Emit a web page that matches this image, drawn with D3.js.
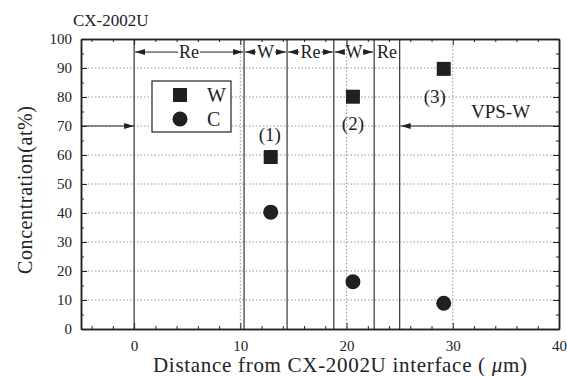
<!DOCTYPE html>
<html>
<head>
<meta charset="utf-8">
<script src="https://cdn.jsdelivr.net/npm/d3@7/dist/d3.min.js"></script>
<style>
  body { margin: 0; background: #fff; }
  svg text { font-family: "Liberation Serif", "Times New Roman", "DejaVu Serif", serif !important; fill: #222; }
</style>
</head>
<body>
<div id="chart"></div>
<script>
// data
const pointLabels = ["(1)", "(2)", "(3)"];
const xPos = [12.86, 20.6, 29.15];
const wValues = [59.3, 80.1, 89.7];
const cValues = [40.3, 16.3, 8.9];
// layer boundaries (um)
const boundaries = [0, 10.35, 14.4, 18.8, 22.6, 25.0];
const layerNames = ["Re", "W", "Re", "W", "Re"];
const xTicks = [0, 10, 20, 30, 40];
const yTicks = [0, 10, 20, 30, 40, 50, 60, 70, 80, 90, 100];

const W = 567, H = 376;
const margin = {top: 39, right: 8, bottom: 47, left: 81};
const width = W - margin.left - margin.right;
const height = H - margin.top - margin.bottom;
const SERIF = "'Liberation Serif', 'Times New Roman', 'DejaVu Serif', serif";

const svg = d3.select("#chart").append("svg")
    .attr("width", W).attr("height", H)
    .style("font-family", SERIF);

const defs = svg.append("defs");
defs.append("marker").attr("id", "arr")
    .attr("viewBox", "0 0 10 6").attr("refX", 10).attr("refY", 3)
    .attr("markerWidth", 10).attr("markerHeight", 6)
    .attr("markerUnits", "userSpaceOnUse")
    .attr("orient", "auto")
    .append("path").attr("d", "M0,0 L10,3 L0,6 Z").attr("fill", "#222");

const g = svg.append("g").attr("transform", "translate(" + margin.left + "," + margin.top + ")");

const x = d3.scaleLinear().domain([-5, 40]).range([0, width]);
const y = d3.scaleLinear().domain([0, 100]).range([height, 0]);

// dotted grid
g.selectAll(".hgrid").data(yTicks.filter(d => d > 0 && d < 100)).enter()
    .append("line")
    .attr("x1", 0).attr("x2", width)
    .attr("y1", d => y(d)).attr("y2", d => y(d))
    .attr("stroke", "#999").attr("stroke-width", 1).attr("stroke-dasharray", "1.5,2");
g.selectAll(".vgrid").data([10, 20, 30]).enter()
    .append("line")
    .attr("y1", 0).attr("y2", height)
    .attr("x1", d => x(d)).attr("x2", d => x(d))
    .attr("stroke", "#999").attr("stroke-width", 1).attr("stroke-dasharray", "1.5,2");

// layer boundaries
g.selectAll(".bound").data(boundaries).enter()
    .append("line")
    .attr("y1", 0).attr("y2", height)
    .attr("x1", d => x(d)).attr("x2", d => x(d))
    .attr("stroke", "#333").attr("stroke-width", 1.2);

// axes (ticks inside)
const xMinor = d3.range(-4, 41, 2).filter(d => xTicks.indexOf(d) < 0);
const yMinor = d3.range(5, 100, 10);

function drawAxis(axisGen, tr) {
  const a = g.append("g").attr("transform", tr).call(axisGen);
  a.attr("font-family", null);
  a.select(".domain").attr("stroke", "#222").attr("stroke-width", 1.5);
  a.selectAll(".tick line").attr("stroke", "#222");
  return a;
}
const xb = drawAxis(d3.axisBottom(x).tickValues(xTicks).tickSizeInner(-6).tickSizeOuter(0).tickPadding(11), "translate(0," + height + ")");
xb.selectAll("text").attr("font-size", 15);
drawAxis(d3.axisBottom(x).tickValues(xMinor).tickSizeInner(-3).tickSizeOuter(0).tickFormat(""), "translate(0," + height + ")");
drawAxis(d3.axisTop(x).tickValues(xTicks).tickSizeInner(-6).tickSizeOuter(0).tickFormat(""), "translate(0,0)");
drawAxis(d3.axisTop(x).tickValues(xMinor).tickSizeInner(-3).tickSizeOuter(0).tickFormat(""), "translate(0,0)");

const yl = drawAxis(d3.axisLeft(y).tickValues(yTicks).tickSizeInner(-6).tickSizeOuter(0).tickPadding(9), "translate(0,0)");
yl.selectAll("text").attr("font-size", 15);
drawAxis(d3.axisLeft(y).tickValues(yMinor).tickSizeInner(-3).tickSizeOuter(0).tickFormat(""), "translate(0,0)");
drawAxis(d3.axisRight(y).tickValues(yTicks).tickSizeInner(-6).tickSizeOuter(0).tickFormat(""), "translate(" + width + ",0)");
drawAxis(d3.axisRight(y).tickValues(yMinor).tickSizeInner(-3).tickSizeOuter(0).tickFormat(""), "translate(" + width + ",0)");

// layer labels with arrows at top
const yArr = y(95.5);
layerNames.forEach((name, i) => {
  const a = x(boundaries[i]), b = x(boundaries[i + 1]);
  const cx = (a + b) / 2;
  const t = g.append("text").attr("x", cx).attr("y", yArr + 6)
      .attr("text-anchor", "middle").attr("font-size", 18).text(name);
  const tw = t.node().getComputedTextLength();
  if (b - a > tw + 14) {
    g.append("line").attr("x1", cx - tw / 2 - 1).attr("x2", a + 1)
        .attr("y1", yArr).attr("y2", yArr).attr("stroke", "#222").attr("marker-end", "url(#arr)");
    g.append("line").attr("x1", cx + tw / 2 + 1).attr("x2", b - 1)
        .attr("y1", yArr).attr("y2", yArr).attr("stroke", "#222").attr("marker-end", "url(#arr)");
  }
});

// interface arrow at 70 from left axis, VPS-W arrow from right axis
g.append("line").attr("x1", 0).attr("x2", x(0))
    .attr("y1", y(70)).attr("y2", y(70)).attr("stroke", "#222").attr("stroke-width", 1.2).attr("marker-end", "url(#arr)");
g.append("line").attr("x1", width).attr("x2", x(25) + 1)
    .attr("y1", y(70)).attr("y2", y(70)).attr("stroke", "#222").attr("stroke-width", 1.2).attr("marker-end", "url(#arr)");
g.append("text").attr("x", x(34.5)).attr("y", y(70) - 8)
    .attr("text-anchor", "middle").attr("font-size", 19).text("VPS-W");

// data points
const sq = 14;
g.selectAll(".wpt").data(xPos).enter().append("rect")
    .attr("x", (d) => x(d) - sq / 2)
    .attr("y", (d, i) => y(wValues[i]) - sq / 2)
    .attr("width", sq).attr("height", sq).attr("fill", "#231f20");
g.selectAll(".cpt").data(xPos).enter().append("circle")
    .attr("cx", d => x(d))
    .attr("cy", (d, i) => y(cValues[i]))
    .attr("r", 7.5).attr("fill", "#231f20");

// point labels
const labOff = [[-1, -22], [0, 27], [-9, 28]];
g.selectAll(".plab").data(pointLabels).enter().append("text")
    .attr("x", (d, i) => x(xPos[i]) + labOff[i][0])
    .attr("y", (d, i) => y(wValues[i]) + labOff[i][1] + 6)
    .attr("text-anchor", "middle").attr("font-size", 19).text(d => d);

// legend
const lg = g.append("g").attr("transform", "translate(" + (152 - margin.left) + "," + (81 - margin.top) + ")");
lg.append("rect").attr("width", 79).attr("height", 51)
    .attr("fill", "#fff").attr("stroke", "#222").attr("stroke-width", 1.2);
lg.append("rect").attr("x", 21).attr("y", 7).attr("width", 14).attr("height", 14).attr("fill", "#231f20");
lg.append("circle").attr("cx", 28).attr("cy", 38).attr("r", 7.5).attr("fill", "#231f20");
lg.append("text").attr("x", 55).attr("y", 21).attr("font-size", 20).text("W");
lg.append("text").attr("x", 55).attr("y", 45).attr("font-size", 20).text("C");

// titles
svg.append("text").attr("x", 73).attr("y", 26).attr("font-size", 17).text("CX-2002U");
const xt = svg.append("text").attr("x", 340).attr("y", 372)
    .attr("text-anchor", "middle").attr("font-size", 21)
    .attr("textLength", 374).attr("lengthAdjust", "spacing");
xt.append("tspan").text("Distance from CX-2002U interface ( ");
xt.append("tspan").attr("font-style", "italic").text("\u03bc");
xt.append("tspan").text("m)");
svg.append("text").attr("transform", "translate(32,190) rotate(-90)")
    .attr("text-anchor", "middle").attr("font-size", 20)
    .attr("textLength", 168).attr("lengthAdjust", "spacing")
    .text("Concentration(at%)");
</script>
</body>
</html>
